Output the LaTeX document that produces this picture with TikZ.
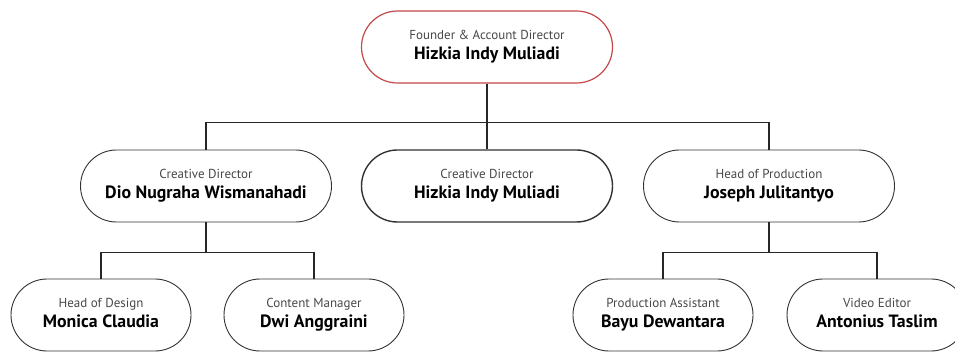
\documentclass[tikz,border=0pt]{standalone}
\usepackage{fontspec}
\setmainfont{PT Sans}
\usetikzlibrary{shapes.misc}
\definecolor{founderred}{RGB}{196,72,74}
\definecolor{roletext}{RGB}{72,72,72}
\newcommand{\post}[1]{{\fontsize{13}{20}\selectfont\color{roletext}\vphantom{Hg}#1}}
\newcommand{\person}[1]{{\fontsize{17.8}{20}\selectfont\bfseries\vphantom{Hg}#1}}
\tikzset{
  member/.style={rounded rectangle, draw=black!80, line width=0.9pt, fill=white,
    minimum width=251pt, minimum height=72pt, align=center, inner sep=0pt,
    font=\fontsize{12}{20}\selectfont},
  junior/.style={member, minimum width=180pt},
  link/.style={black!85, line width=1.2pt}
}

\begin{document}
\begin{tikzpicture}[x=1pt,y=-1pt]
\useasboundingbox (0,0) rectangle (955,352);

\node [member, draw=founderred, line width=1.2pt] (founder) at (487,47) {\post{Founder \& Account Director}\\\person{Hizkia Indy Muliadi}};

\node [member] (dio) at (206,186) {\post{Creative Director}\\\person{Dio Nugraha Wismanahadi}};
\node [member, line width=1.4pt] (hizkia) at (487,186) {\post{Creative Director}\\\person{Hizkia Indy Muliadi}};
\node [member] (joseph) at (769,186) {\post{Head of Production}\\\person{Joseph Julitantyo}};

\node [junior] (monica) at (101,315) {\post{Head of Design}\\\person{Monica Claudia}};
\node [junior] (dwi) at (314,315) {\post{Content Manager}\\\person{Dwi Anggraini}};
\node [junior] (bayu) at (663,315) {\post{Production Assistant}\\\person{Bayu Dewantara}};
\node [junior] (antonius) at (877,315) {\post{Video Editor}\\\person{Antonius Taslim}};

%\draw the tree
\draw [link] (founder.south) -- ++(0,39) -| (dio.north);
\draw [link] (founder.south) -- ++(0,39) -| (joseph.north);
\draw [link] (founder.south) -- (hizkia.north);
\draw [link] (dio.south) -- ++(0,30) -| (monica.north);
\draw [link] (dio.south) -- ++(0,30) -| (dwi.north);
\draw [link] (joseph.south) -- ++(0,30) -| (bayu.north);
\draw [link] (joseph.south) -- ++(0,30) -| (antonius.north);

\end{tikzpicture}
\end{document}
